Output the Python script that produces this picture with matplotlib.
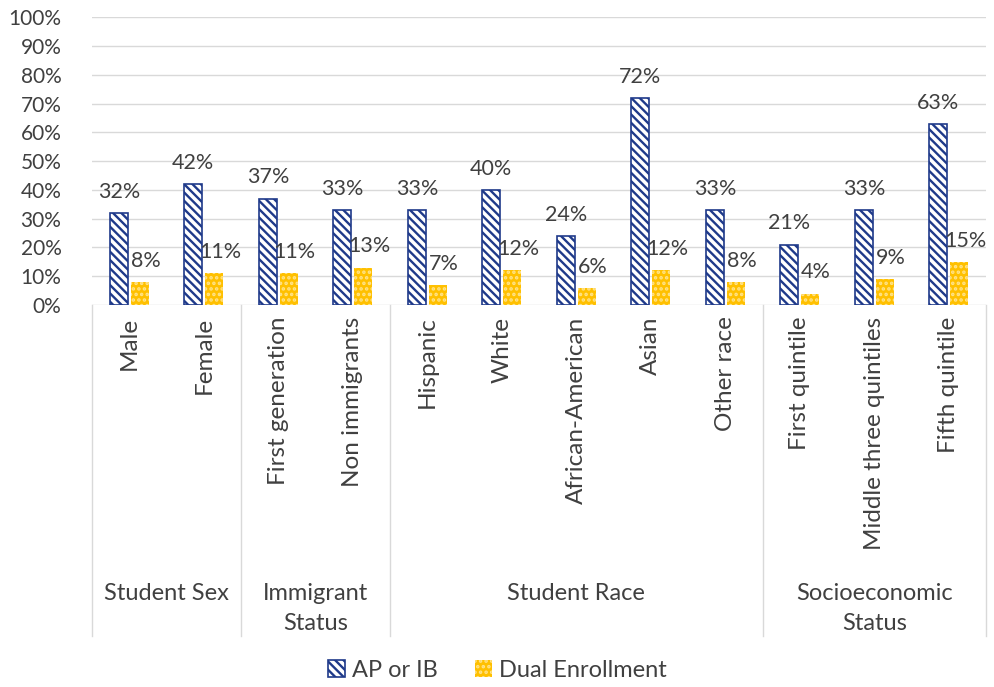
import matplotlib.pyplot as plt
import numpy as np

plt.rcParams['font.family'] = ['Lato', 'DejaVu Sans']
plt.rcParams['hatch.linewidth'] = 1.7

categories = ['Male', 'Female', 'First generation', 'Non immigrants', 'Hispanic', 'White',
              'African-American', 'Asian', 'Other race', 'First quintile',
              'Middle three quintiles', 'Fifth quintile']
ap_ib = [32, 42, 37, 33, 33, 40, 24, 72, 33, 21, 33, 63]
dual = [8, 11, 11, 13, 7, 12, 6, 12, 8, 4, 9, 15]
groups = ['Student Sex', 'Immigrant\nStatus', 'Student Race', 'Socioeconomic\nStatus']
group_sizes = [2, 2, 5, 3]

txt = '#404040'
navy = '#1F3A8A'
gold = '#FFC000'
grid = '#D9D9D9'

fig = plt.figure(figsize=(9.95, 6.87), dpi=100)
ax = fig.add_axes([0.0925, 0.556, 0.8985, 0.419])

x = np.arange(len(categories))
w = 0.245
off = 0.14

ax.bar(x - off, ap_ib, w, color='white', edgecolor=navy, hatch='\\\\\\\\', linewidth=1.2, zorder=3, label='AP or IB')
ax.bar(x + off, dual, w, color=gold, edgecolor='none', linewidth=0, zorder=3)
ax.bar(x + off, dual, w, color='none', edgecolor='#FFE38A', hatch='...', linewidth=0, zorder=4)
# legend proxy for the dotted yellow
dual_proxy = plt.Rectangle((0, 0), 1, 1, facecolor=gold, edgecolor='#FFE38A', hatch='...', linewidth=0)

for i in range(len(categories)):
    ax.annotate(f'{ap_ib[i]}%', (x[i] - off, ap_ib[i]), xytext=(0, 8), textcoords='offset points',
                ha='center', va='bottom', fontsize=15.5, color=txt)
    ax.annotate(f'{dual[i]}%', (x[i] + off + 0.08, dual[i]), xytext=(0, 8), textcoords='offset points',
                ha='center', va='bottom', fontsize=15.5, color=txt)

ax.set_xlim(-0.5, len(categories) - 0.5)
ax.set_ylim(0, 100)
ax.set_yticks(range(0, 101, 10))
ax.set_yticklabels([f'{v}%' for v in range(0, 101, 10)], fontsize=15, color=txt)
ax.tick_params(axis='y', length=0, pad=22)
ax.set_xticks([])
ax.grid(axis='y', color=grid, linewidth=1, zorder=0)
for s in ax.spines.values():
    s.set_visible(False)

# category labels below the axis
for i, c in enumerate(categories):
    ax.text(x[i], -4, c, rotation=90, ha='center', va='top', fontsize=17.5, color=txt)

# group separators and names
bottom = -115
edges = np.concatenate([[0], np.cumsum(group_sizes)]) - 0.5
for e in edges:
    ax.plot([e, e], [0, bottom], color=grid, linewidth=1, clip_on=False, zorder=1)
for g, a, b in zip(groups, edges[:-1], edges[1:]):
    ax.text((a + b) / 2, -96.5, g, ha='center', va='top', fontsize=17, color=txt, linespacing=1.55)

fig.legend([ax.patches[0], dual_proxy], ['AP or IB', 'Dual Enrollment'], loc='lower center',
           bbox_to_anchor=(0.5, -0.022), ncol=2, frameon=False, fontsize=17, handlelength=0.7,
           handleheight=0.7, handletextpad=0.3, columnspacing=1.6, labelcolor=txt)

fig.savefig('out.png', dpi=100)
